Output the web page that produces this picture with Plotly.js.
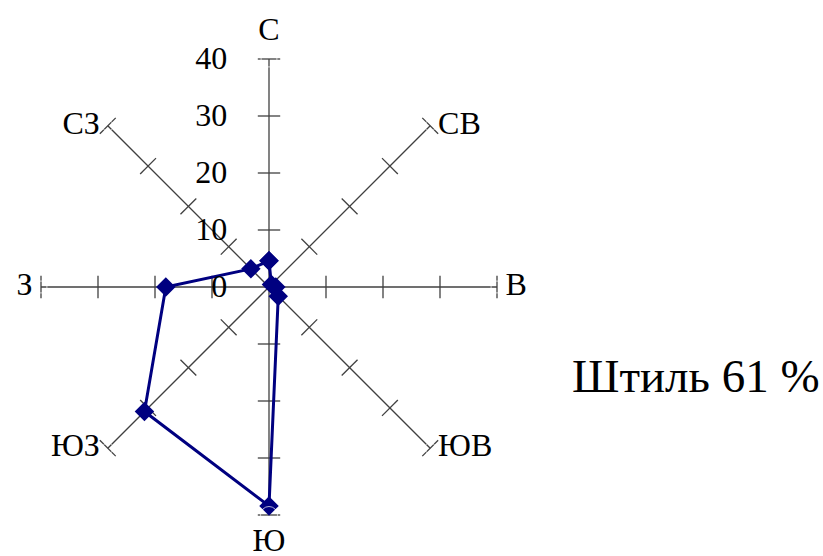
<!DOCTYPE html>
<html>
<head>
<meta charset="utf-8">
<script src="https://cdn.plot.ly/plotly-3.0.1.min.js"></script>
<style>html,body{margin:0;padding:0;background:#fff;}#chart{width:823px;height:556px;}</style>
</head>
<body>
<div id="chart"></div>
<script>
// Wind directions (categories)
const directions = ['С', 'СВ', 'В', 'ЮВ', 'Ю', 'ЮЗ', 'З', 'СЗ'];
// Wind frequency, %
const windValues = [4.6, 0.6, 1.2, 2.3, 38.4, 30.9, 18.1, 4.5];
// Radial ticks
const radialTicks = [0, 10, 20, 30, 40];
const radialTickLabels = ['0', '10', '20', '30', '40'];
const calmText = 'Штиль 61 %';

const FONT = '"Liberation Serif", "Times New Roman", serif';
const AXIS_COLOR = '#404040';
const RMAX = radialTicks[radialTicks.length - 1];

// tick crosses on each spoke (built from categories & tick values)
const tickR = [], tickTheta = [], tickAngle = [];
directions.forEach((d, i) => {
  radialTicks.filter(v => v > 0).forEach(v => {
    tickR.push(v); tickTheta.push(d); tickAngle.push(i * 45);
  });
});

// direction labels placed just outside the spoke ends
const labelPos = ['top center', 'middle right', 'middle right', 'middle right',
                  'bottom center', 'middle left', 'middle left', 'middle left'];
const labelSize = [16, 11, 12, 11, 17, 11, 12, 11];
const labelR = directions.map(() => RMAX);

const traces = [
  {
    type: 'scatterpolar', mode: 'markers',
    r: tickR, theta: tickTheta,
    marker: {symbol: 'line-ew', size: 16, angle: tickAngle,
             line: {color: AXIS_COLOR, width: 1.3}},
    hoverinfo: 'skip', showlegend: false
  },
  {
    type: 'scatterpolar', mode: 'lines+markers',
    r: windValues.concat([windValues[0]]),
    theta: directions.concat([directions[0]]),
    line: {color: '#000080', width: 3},
    marker: {symbol: 'diamond', size: 15, color: '#000080'},
    showlegend: false
  },
  {
    type: 'scatterpolar', mode: 'markers+text',
    r: labelR, theta: directions, text: directions,
    textposition: labelPos, cliponaxis: false,
    textfont: {family: FONT, size: 32, color: '#000'},
    marker: {size: labelSize, color: 'rgba(0,0,0,0)'},
    hoverinfo: 'skip', showlegend: false
  }
];

const layout = {
  width: 823, height: 556,
  margin: {l: 0, r: 0, t: 0, b: 0},
  paper_bgcolor: '#fff',
  showlegend: false,
  font: {family: FONT, size: 32, color: '#000'},
  polar: {
    domain: {x: [41/823, 497/823], y: [41/556, 497/556]},
    bgcolor: '#fff',
    radialaxis: {
      range: [0, RMAX], angle: 90, side: 'counterclockwise',
      tickvals: radialTicks, ticktext: radialTickLabels,
      showline: false, showgrid: false,
      ticks: 'outside', ticklen: 30, tickcolor: 'rgba(0,0,0,0)',
      tickfont: {family: FONT, size: 32, color: '#000'},
      tickangle: 90
    },
    angularaxis: {
      type: 'category', categoryarray: directions,
      rotation: 90, direction: 'clockwise',
      showline: false, showgrid: true, showticklabels: false,
      gridcolor: AXIS_COLOR, gridwidth: 1.3, ticks: ''
    }
  },
  annotations: [{
    text: calmText, xref: 'paper', yref: 'paper',
    x: 570/823, y: 1 - 376/556, xanchor: 'left', yanchor: 'middle',
    showarrow: false, font: {family: FONT, size: 47, color: '#000'}
  }]
};

Plotly.newPlot('chart', traces, layout, {displayModeBar: false, staticPlot: true});
</script>
</body>
</html>
